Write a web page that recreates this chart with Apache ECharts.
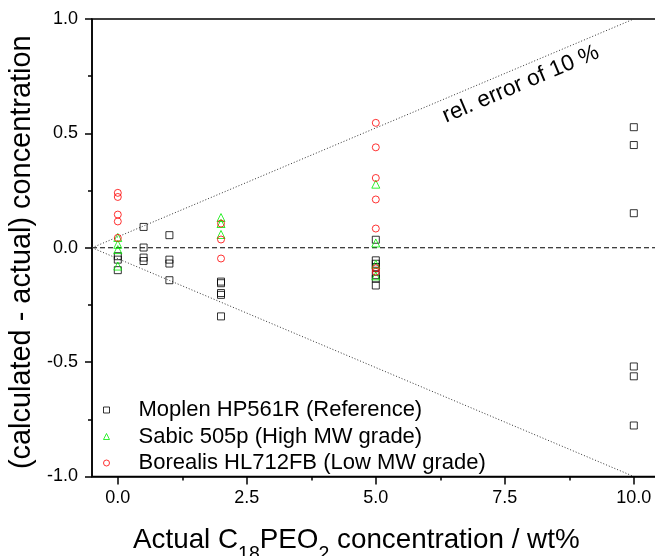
<!DOCTYPE html>
<html><head><meta charset="utf-8">
<script src="https://cdn.jsdelivr.net/npm/echarts@6/dist/echarts.min.js"></script>
<style>html,body{margin:0;padding:0;background:#fff}#c{width:655px;height:556px}</style>
</head><body><div id="c"></div>
<script>
const seriesNames = ['Moplen HP561R (Reference)', 'Sabic 505p (High MW grade)', 'Borealis HL712FB (Low MW grade)'];
const moplenX = [0,0,0, 0.5,0.5,0.5,0.5, 1,1,1,1, 2,2,2,2,2, 5,5,5,5,5,5,5, 10,10,10,10,10,10];
const moplenY = [-0.037,-0.052,-0.098, 0.091,0.001,-0.043,-0.058, 0.055,-0.052,-0.069,-0.142, -0.148,-0.155,-0.198,-0.206,-0.30, 0.035,-0.055,-0.07,-0.085,-0.12,-0.135,-0.165, 0.527,0.449,0.151,-0.519,-0.562,-0.777];
const sabicX = [0,0,0,0, 2,2,2, 5,5,5,5];
const sabicY = [0.045,0.015,-0.008,-0.08, 0.132,0.106,0.058, 0.278,0.021,-0.072,-0.123];
const borealisX = [0,0,0,0,0, 2,2,2, 5,5,5,5,5,5,5];
const borealisY = [0.24,0.222,0.145,0.115,0.043, 0.106,0.036,-0.047, 0.546,0.439,0.305,0.211,0.084,-0.09,-0.105];
const xTicks = [0, 2.5, 5, 7.5, 10];
const xMinorTicks = [1.25, 3.75, 6.25, 8.75];
const errLineX = [-0.5, 10];
const errUpperY = [0, 1];
const errLowerY = [0, -1];
const zeroLineX = [-0.5, 10.5];
const zeroLineY = [0, 0];
const annotation = 'rel. error of 10 %';

const FONT = '"Liberation Sans", Arial, sans-serif';
const zip = (xs, ys) => xs.map((x, i) => [x, ys[i]]);
const chart = echarts.init(document.getElementById('c'), null, {renderer: 'canvas'});

function scatter(name, xs, ys, symbol, size, color) {
  return {
    name, type: 'scatter', data: zip(xs, ys), symbol, symbolSize: size,
    itemStyle: {color: 'rgba(0,0,0,0)', borderColor: color, borderWidth: 1},
    emphasis: {disabled: true}, z: 5
  };
}
function refLine(xs, ys, type, color) {
  return {
    type: 'line', data: zip(xs, ys), symbol: 'none', silent: true,
    lineStyle: {color, width: 1, type}, z: 3
  };
}

chart.setOption({
  animation: false,
  backgroundColor: '#fff',
  textStyle: {fontFamily: FONT},
  grid: {left: 92, top: 19, width: 567.6, height: 457.5, show: true, borderColor: '#000', borderWidth: 1.5,
         outerBoundsMode: 'none', containLabel: false},
  legend: {
    data: seriesNames, orient: 'vertical', left: 103, top: 399, padding: 0,
    itemWidth: 6, itemHeight: 6, itemGap: 4.5,
    itemStyle: {borderWidth: 1},
    textStyle: {fontSize: 22, color: '#000', fontFamily: FONT, lineHeight: 22, padding: [0, 0, 0, 24]},
    selectedMode: false
  },
  xAxis: [{
    type: 'value', min: -0.5, max: 10.5, position: 'bottom',
    axisLine: {onZero: false, lineStyle: {color: '#000', width: 1.5}},
    axisTick: {customValues: xTicks, length: 8, lineStyle: {color: '#000', width: 1.5}},
    axisLabel: {customValues: xTicks, formatter: v => v.toFixed(1), fontSize: 18, color: '#000', margin: 13, fontFamily: FONT},
    splitLine: {show: false},
    name: 'Actual C{sub|18}PEO{sub|2} concentration / wt%',
    nameLocation: 'middle', nameGap: 40,
    nameTextStyle: {
      fontSize: 27.8, color: '#000', fontFamily: FONT, lineHeight: 48, padding: [0, 39, 0, 0],
      rich: {sub: {fontSize: 19.5, color: '#000', fontFamily: FONT, verticalAlign: 'bottom', lineHeight: 19}}
    }
  }, {
    type: 'value', min: -0.5, max: 10.5, position: 'bottom', gridIndex: 0,
    axisLine: {show: false, onZero: false},
    axisTick: {customValues: xMinorTicks, length: 4, lineStyle: {color: '#000', width: 1.5}},
    axisLabel: {show: false}, splitLine: {show: false}
  }],
  yAxis: {
    type: 'value', min: -1, max: 1, interval: 0.5,
    axisLine: {show: true, onZero: false, lineStyle: {color: '#000', width: 1.5}},
    axisTick: {show: true, length: 7, lineStyle: {color: '#000', width: 1.5}},
    minorTick: {show: true, splitNumber: 2, length: 4, lineStyle: {color: '#000', width: 1.5}},
    axisLabel: {formatter: v => v.toFixed(1), fontSize: 18, color: '#000', margin: 14, fontFamily: FONT},
    splitLine: {show: false},
    name: '(calculated - actual) concentration',
    nameLocation: 'middle', nameGap: 52,
    nameTextStyle: {fontSize: 28.9, color: '#000', fontFamily: FONT, padding: [0, 9, 0, 0]}
  },
  series: [
    refLine(zeroLineX, zeroLineY, [5, 3], '#000'),
    refLine(errLineX, errUpperY, [1, 2], '#333'),
    refLine(errLineX, errLowerY, [1, 2], '#333'),
    scatter(seriesNames[0], moplenX, moplenY, 'rect', 7, '#000'),
    scatter(seriesNames[1], sabicX, sabicY, 'triangle', 8, '#00ee00'),
    scatter(seriesNames[2], borealisX, borealisY, 'circle', 7, '#ff0000')
  ]
});

const p = chart.convertToPixel({gridIndex: 0}, [7.81, 0.715]);
chart.setOption({
  graphic: [{
    type: 'text', x: p[0], y: p[1], rotation: 23 * Math.PI / 180,
    style: {text: annotation, fontSize: 22.5, fill: '#000', fontFamily: FONT, align: 'center', verticalAlign: 'middle'},
    silent: true, z: 10
  }]
});
</script>
</body></html>
